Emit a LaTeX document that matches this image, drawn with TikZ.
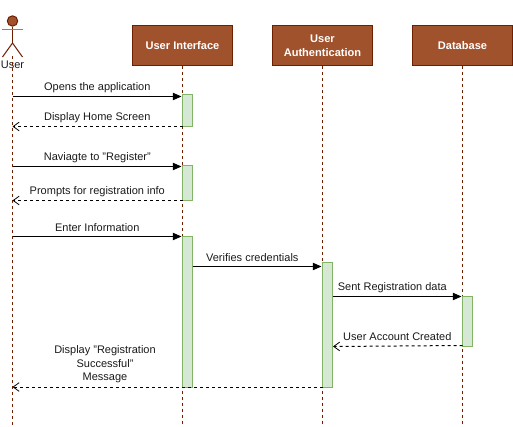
\documentclass[tikz,border=0pt]{standalone}
\usepackage{fontspec}
\setmainfont{Liberation Sans}
\usetikzlibrary{arrows.meta}
\definecolor{boxfill}{HTML}{A0522D}
\definecolor{boxline}{HTML}{6D1F00}
\definecolor{actfill}{HTML}{D5E8D4}
\definecolor{actline}{HTML}{82B366}
\definecolor{txt}{HTML}{1A1A1A}
\tikzset{
  head/.style={draw=boxline,fill=boxfill,line width=0.75pt,minimum width=75pt,minimum height=30pt,inner sep=0pt,align=center,text=white,font=\fontsize{8.3}{10.8}\selectfont\bfseries},
  lifeline/.style={draw=boxline,line width=0.75pt,dash pattern=on 2.25pt off 2.25pt},
  activation/.style={draw=actline,fill=actfill,line width=0.75pt,minimum width=7.5pt,inner sep=0pt,anchor=north},
  msg/.style={draw=black,line width=0.75pt,-{Triangle[length=6.5pt,width=5.5pt]}},
  reply/.style={draw=black,line width=0.75pt,dash pattern=on 2.25pt off 2.25pt,-{Straight Barb[length=4.5pt,width=6.5pt,line width=0.6pt]}},
  msglabel/.style={text=txt,font=\fontsize{8.25}{10.2}\selectfont,align=center,inner sep=0pt},
  figure/.style={draw=boxline,line width=0.75pt}
}
\begin{document}
\begin{tikzpicture}[x=0.75pt,y=-0.75pt]
\useasboundingbox (0,0) rectangle (513,427);
% heads
\node[head] (ui) at (182.5,46) {User Interface};
\node[head] (auth) at (322.5,46) {User\\Authentication};
\node[head] (db) at (462.5,46) {Database};
% actor
\node[draw=boxline,fill=boxfill,circle,line width=0.75pt,minimum size=7.8pt,inner sep=0pt] (head) at (12.5,21) {};
\coordinate (hip) at (12.5,43);
\coordinate (armL) at (2,29.5);
\coordinate (armR) at (23,29.5);
\coordinate (legL) at (2.5,57);
\coordinate (legR) at (22.5,57);
\draw[figure] (head.south) -- (hip);
\draw[figure,draw=boxfill!80!white] (armL) -- (armR);
\draw[figure] (legL) -- (hip) -- (legR);
\node[msglabel] (user) at (12.5,65) {User};
% lifelines
\coordinate (userTop) at (12.5,56);
\coordinate (userEnd) at (12.5,425);
\coordinate (uiEnd) at (182.5,425);
\coordinate (authEnd) at (322.5,425);
\coordinate (dbEnd) at (462.5,425);
\draw[lifeline] (userTop) -- (userEnd);
\draw[lifeline] (ui.south) -- (uiEnd);
\draw[lifeline] (auth.south) -- (authEnd);
\draw[lifeline] (db.south) -- (dbEnd);
% activations
\node[activation,minimum height=24pt] (a1) at (187.5,94.5) {};
\node[activation,minimum height=26.25pt] (a2) at (187.5,165.5) {};
\node[activation,minimum height=112.5pt] (a3) at (187.5,236.5) {};
\node[activation,minimum height=93pt] (a4) at (327.5,262.5) {};
\node[activation,minimum height=37.5pt] (a5) at (467.5,296) {};
% message ends
\coordinate (m1s) at (12.5,96.5);
\coordinate (m1e) at (181.5,96.5);
\coordinate (m2s) at (182.5,126.5);
\coordinate (m2e) at (12.5,126.5);
\coordinate (m3s) at (12.5,166.5);
\coordinate (m3e) at (181.5,166.5);
\coordinate (m4s) at (182.5,200.5);
\coordinate (m4e) at (12.5,200.5);
\coordinate (m5s) at (12.5,236.5);
\coordinate (m5e) at (181.5,236.5);
\coordinate (m6s) at (192.5,266.5);
\coordinate (m6e) at (321.5,266.5);
\coordinate (m7s) at (332.5,296.5);
\coordinate (m7e) at (461.5,296.5);
\coordinate (m8s) at (462.5,345.5);
\coordinate (m8e) at (333,346.5);
\coordinate (m9s) at (322.5,387);
\coordinate (m9e) at (12.5,387);
\draw[msg] (m1s) -- (m1e);
\draw[reply] (m2s) -- (m2e);
\draw[msg] (m3s) -- (m3e);
\draw[reply] (m4s) -- (m4e);
\draw[msg] (m5s) -- (m5e);
\draw[msg] (m6s) -- (m6e);
\draw[msg] (m7s) -- (m7e);
\draw[reply] (m8s) -- (m8e);
\draw[reply] (m9s) -- (m9e);
% labels
\node[msglabel] (l1) at (97.3,88) {Opens the application};
\node[msglabel] (l2) at (97.3,118) {Display Home Screen};
\node[msglabel] (l3) at (97.3,158) {Naviagte to "Register"};
\node[msglabel] (l4) at (97.3,191.5) {Prompts for registration info};
\node[msglabel] (l5) at (97.3,228) {Enter Information};
\node[msglabel] (l6) at (252.3,258) {Verifies credentials};
\node[msglabel] (l7) at (392.3,287.5) {Sent Registration data};
\node[msglabel] (l8) at (397.3,336.5) {User Account Created};
\node[msglabel] (l9) at (105,364.5) {Display "Registration\\Successful"\\Message};
\end{tikzpicture}
\end{document}
